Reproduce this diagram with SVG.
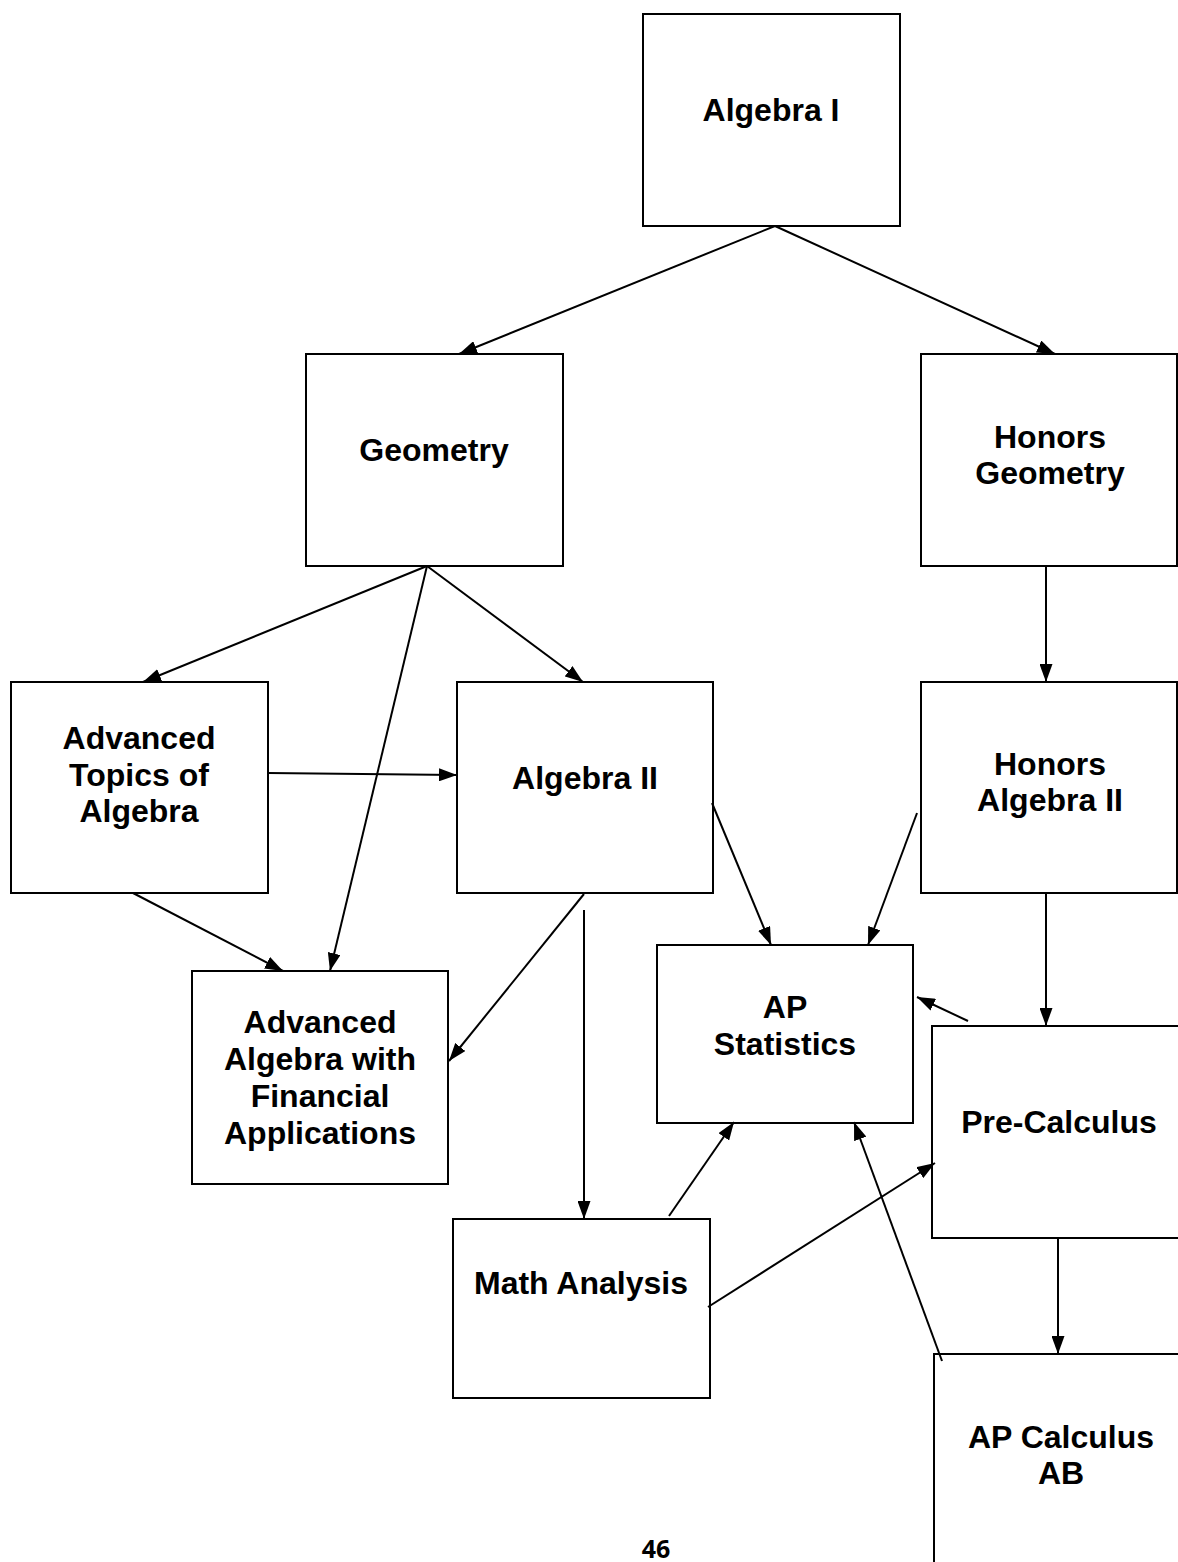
<svg xmlns="http://www.w3.org/2000/svg" width="1178" height="1562" viewBox="0 0 1178 1562">
  <defs>
    <style>
      .box { fill: #fff; stroke: #000; stroke-width: 2; }
      .lbl { font-family: "Liberation Sans", Arial, sans-serif; font-weight: bold; font-size: 32px; fill: #000; text-anchor: middle; }
      .edge { stroke: #000; stroke-width: 2; fill: none; }
      .page { font-family: "Open Sans", "Liberation Sans", sans-serif; font-weight: bold; font-size: 25px; fill: #000; text-anchor: middle; }
    </style>
    <marker id="arrow" markerUnits="userSpaceOnUse" markerWidth="18" markerHeight="13" viewBox="0 0 18 13" refX="18" refY="6.5" orient="auto">
      <path d="M0,0 L18,6.5 L0,13 Z" fill="#000"/>
    </marker>
  </defs>
  <rect width="1178" height="1562" fill="#fff"/>

  <g id="algebra-1">
    <rect class="box" x="643" y="14" width="257" height="212"/>
    <text class="lbl" x="771" y="121">Algebra I</text>
  </g>
  <g id="geometry">
    <rect class="box" x="306" y="354" width="257" height="212"/>
    <text class="lbl" x="434" y="461">Geometry</text>
  </g>
  <g id="honors-geometry">
    <rect class="box" x="921" y="354" width="256" height="212"/>
    <text class="lbl" x="1050" y="448">Honors</text>
    <text class="lbl" x="1050" y="484">Geometry</text>
  </g>
  <g id="advanced-topics">
    <rect class="box" x="11" y="682" width="257" height="211"/>
    <text class="lbl" x="139" y="749">Advanced</text>
    <text class="lbl" x="139" y="786">Topics of</text>
    <text class="lbl" x="139" y="822">Algebra</text>
  </g>
  <g id="algebra-2">
    <rect class="box" x="457" y="682" width="256" height="211"/>
    <text class="lbl" x="585" y="789">Algebra II</text>
  </g>
  <g id="honors-algebra-2">
    <rect class="box" x="921" y="682" width="256" height="211"/>
    <text class="lbl" x="1050" y="775">Honors</text>
    <text class="lbl" x="1050" y="811">Algebra II</text>
  </g>
  <g id="ap-statistics">
    <rect class="box" x="657" y="945" width="256" height="178"/>
    <text class="lbl" x="785" y="1018">AP</text>
    <text class="lbl" x="785" y="1055">Statistics</text>
  </g>
  <g id="advanced-algebra-financial">
    <rect class="box" x="192" y="971" width="256" height="213"/>
    <text class="lbl" x="320" y="1033">Advanced</text>
    <text class="lbl" x="320" y="1070">Algebra with</text>
    <text class="lbl" x="320" y="1107">Financial</text>
    <text class="lbl" x="320" y="1144">Applications</text>
  </g>
  <g id="pre-calculus">
    <rect class="box" x="932" y="1026" width="260" height="212"/>
    <text class="lbl" x="1059" y="1133">Pre-Calculus</text>
  </g>
  <g id="math-analysis">
    <rect class="box" x="453" y="1219" width="257" height="179"/>
    <text class="lbl" x="581" y="1294">Math Analysis</text>
  </g>
  <g id="ap-calculus-ab">
    <rect class="box" x="934" y="1354" width="260" height="230"/>
    <text class="lbl" x="1061" y="1448">AP Calculus</text>
    <text class="lbl" x="1061" y="1484">AB</text>
  </g>

  <g id="connectors">
    <line class="edge" x1="775" y1="226" x2="459" y2="354" marker-end="url(#arrow)"/>
    <line class="edge" x1="775" y1="226" x2="1055" y2="354" marker-end="url(#arrow)"/>
    <line class="edge" x1="427" y1="566" x2="143" y2="682" marker-end="url(#arrow)"/>
    <line class="edge" x1="427" y1="566" x2="583" y2="682" marker-end="url(#arrow)"/>
    <line class="edge" x1="427" y1="566" x2="330" y2="971" marker-end="url(#arrow)"/>
    <line class="edge" x1="268" y1="773" x2="457" y2="775" marker-end="url(#arrow)"/>
    <line class="edge" x1="133" y1="893" x2="283" y2="971" marker-end="url(#arrow)"/>
    <line class="edge" x1="584" y1="894" x2="449" y2="1061" marker-end="url(#arrow)"/>
    <line class="edge" x1="584" y1="910" x2="584" y2="1219" marker-end="url(#arrow)"/>
    <line class="edge" x1="712" y1="803" x2="771" y2="945" marker-end="url(#arrow)"/>
    <line class="edge" x1="917" y1="813" x2="868" y2="945" marker-end="url(#arrow)"/>
    <line class="edge" x1="1046" y1="566" x2="1046" y2="682" marker-end="url(#arrow)"/>
    <line class="edge" x1="1046" y1="893" x2="1046" y2="1026" marker-end="url(#arrow)"/>
    <line class="edge" x1="968" y1="1021" x2="917" y2="997" marker-end="url(#arrow)"/>
    <line class="edge" x1="669" y1="1216" x2="734" y2="1122" marker-end="url(#arrow)"/>
    <line class="edge" x1="708" y1="1307" x2="935" y2="1163" marker-end="url(#arrow)"/>
    <line class="edge" x1="1058" y1="1238" x2="1058" y2="1354" marker-end="url(#arrow)"/>
    <line class="edge" x1="942" y1="1361" x2="854" y2="1122" marker-end="url(#arrow)"/>
  </g>

  <text class="page" x="656" y="1558">46</text>
</svg>
